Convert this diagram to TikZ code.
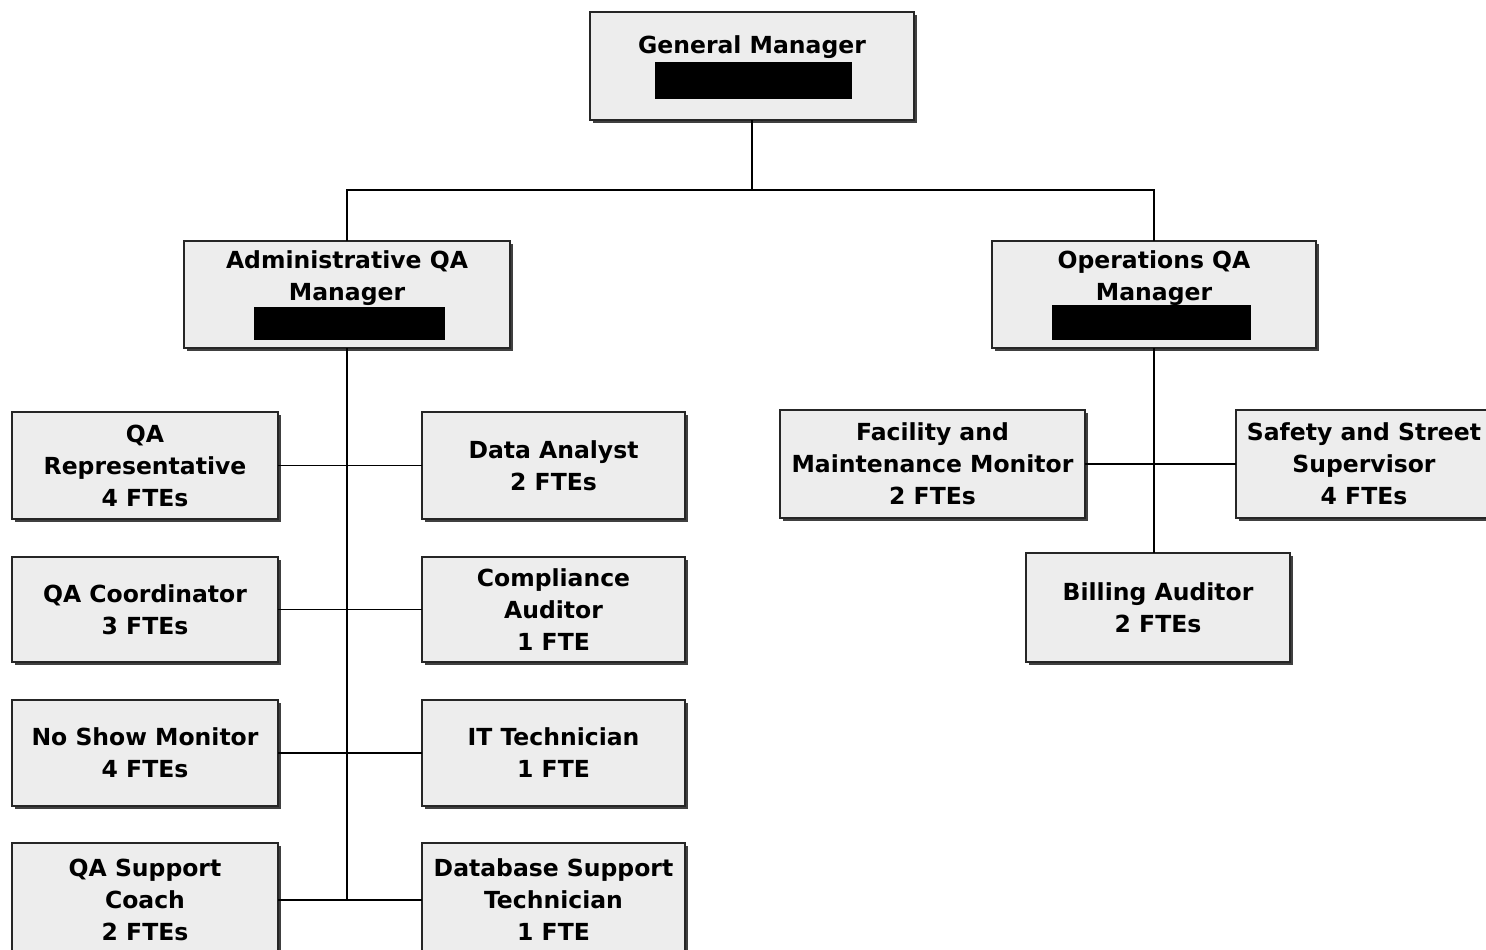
\documentclass[tikz,border=0pt]{standalone}
\usepackage{fontspec}
\setmainfont{DejaVu Sans}
\usetikzlibrary{shadows}
\begin{document}
\begin{tikzpicture}[x=1pt,y=-1pt,
  orgbox/.style={draw=black!85, line width=1.3pt, fill=black!7, inner sep=0pt, outer sep=0pt,
    align=center, font=\bfseries\fontsize{23.5}{32}\selectfont,
    drop shadow={shadow xshift=3pt, shadow yshift=-3pt, fill=black!75, opacity=1}},
  title/.style={inner sep=0pt, align=center, font=\bfseries\fontsize{23.5}{32}\selectfont},
  link/.style={draw=black, line width=1.6pt}]
\useasboundingbox (0,0) rectangle (1486,950);
\fill[white] (0,0) rectangle (1486,950);

% top level
\node[orgbox, minimum width=324, minimum height=108] (gm) at (752,66) {};
\node[title] (gmt) at (752,47) {General Manager};
\fill[black] (655,62) rectangle (852,99);

% managers
\node[orgbox, minimum width=326, minimum height=107] (adm) at (347,294.5) {};
\node[title] (admt) at (347,278) {Administrative QA\\Manager};
\fill[black] (254,307) rectangle (445,340);

\node[orgbox, minimum width=324, minimum height=107] (ops) at (1154,294.5) {};
\node[title] (opst) at (1154,278) {Operations QA\\Manager};
\fill[black] (1052,305) rectangle (1251,340);

% administrative staff, left column
\node[orgbox, minimum width=266, minimum height=107] (qarep) at (145,465.5) {QA\\Representative\\4 FTEs};
\node[orgbox, minimum width=266, minimum height=105] (qacoord) at (145,609.5) {QA Coordinator\\3 FTEs};
\node[orgbox, minimum width=266, minimum height=106] (noshow) at (145,753) {No Show Monitor\\4 FTEs};
\node[orgbox, minimum width=266, minimum height=114] (coach) at (145,900) {QA Support\\Coach\\2 FTEs};

% administrative staff, right column
\node[orgbox, minimum width=263, minimum height=107] (data) at (553.5,465.5) {Data Analyst\\2 FTEs};
\node[orgbox, minimum width=263, minimum height=105] (compl) at (553.5,609.5) {Compliance\\Auditor\\1 FTE};
\node[orgbox, minimum width=263, minimum height=106] (it) at (553.5,753) {IT Technician\\1 FTE};
\node[orgbox, minimum width=263, minimum height=114] (dbsup) at (553.5,900) {Database Support\\Technician\\1 FTE};

% operations staff
\node[orgbox, minimum width=305, minimum height=108] (fac) at (932.5,464) {Facility and\\Maintenance Monitor\\2 FTEs};
\node[orgbox, minimum width=256, minimum height=108] (safe) at (1364,464) {Safety and Street\\Supervisor\\4 FTEs};
\node[orgbox, minimum width=264, minimum height=109] (bill) at (1158,607.5) {Billing Auditor\\2 FTEs};

% connectors
\coordinate (bus) at (752,190);
\draw[link] (gm.south) -- (bus);
\draw[link] (adm.north) |- (bus) -| (ops.north);

\draw[link] (adm.south) -- (adm.south |- coach.east);
\draw[link] (qarep.east) -- (data.west);
\draw[link] (qacoord.east) -- (compl.west);
\draw[link] (noshow.east) -- (it.west);
\draw[link] (coach.east) -- (dbsup.west);

\draw[link] (ops.south) -- (ops.south |- bill.north);
\draw[link] (fac.east) -- (safe.west);
\end{tikzpicture}
\end{document}
